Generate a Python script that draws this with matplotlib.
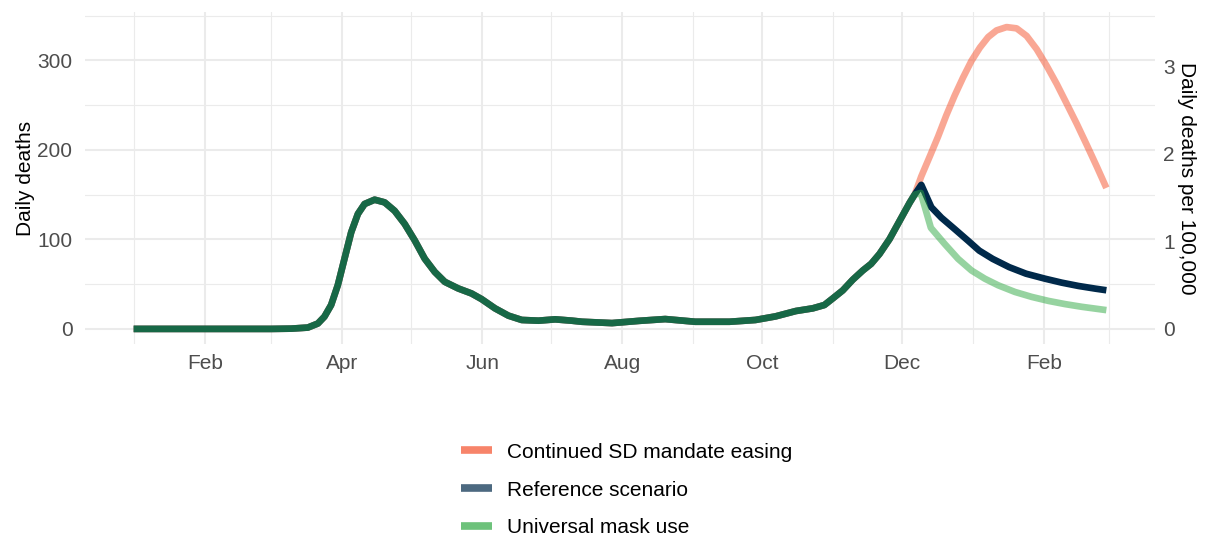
import matplotlib
matplotlib.use("Agg")
import matplotlib.pyplot as plt
import matplotlib.dates as mdates
from matplotlib.lines import Line2D
import pandas as pd

plt.rcParams["font.family"] = ["Liberation Sans", "DejaVu Sans"]

# observed daily deaths (shared by all scenarios)
hist_dates = ["2020-01-01", "2020-02-01", "2020-03-01", "2020-03-09 14:00",
              "2020-03-16 22:00", "2020-03-21 07:00", "2020-03-24 04:00", "2020-03-27 02:00",
              "2020-03-30 00:00", "2020-04-01 22:00", "2020-04-04 20:00", "2020-04-07 18:00",
              "2020-04-10 16:00", "2020-04-15 01:00", "2020-04-19 10:00", "2020-04-23 18:00",
              "2020-04-28 03:00", "2020-05-02 12:00", "2020-05-06 21:00", "2020-05-11 06:00",
              "2020-05-15 15:00", "2020-05-21 12:00", "2020-05-27 07:00", "2020-05-31 16:00",
              "2020-06-06 12:00", "2020-06-12 09:00", "2020-06-18 04:00", "2020-06-25 11:00",
              "2020-07-02 18:00", "2020-07-10 00:00", "2020-07-14 10:00", "2020-07-27 12:00",
              "2020-08-08 07:00", "2020-08-19 17:00", "2020-09-01 19:00", "2020-09-16 17:00",
              "2020-09-28 01:00", "2020-10-06 19:00", "2020-10-15 16:00", "2020-10-23 01:00",
              "2020-10-28 02:00", "2020-10-31 17:00", "2020-11-05 02:00", "2020-11-09 11:00",
              "2020-11-13 20:00", "2020-11-17 11:00", "2020-11-21 03:00", "2020-11-25 12:00",
              "2020-11-29 21:00", "2020-12-04 06:00", "2020-12-06 10:00"]
hist_deaths = [0, 0, 0, 0.3,
               1.5, 6, 13.7, 26.7,
               48.9, 78.5, 108, 128.5,
               139.6, 144.4, 141.4, 132,
               117.4, 99, 78.5, 63.7,
               52.6, 45.2, 39.6, 33.3,
               23, 14.8, 10, 9.2,
               10.7, 9.2, 8, 6.5,
               9, 11, 8, 8,
               10, 14, 20, 23,
               26.7, 34, 43, 55,
               65.3, 72.7, 83.8, 100.4,
               120.7, 141, 150]

# projections
easing_dates = ["2020-12-09 08:00", "2020-12-13 00:00", "2020-12-16 15:00", "2020-12-20 06:00",
                "2020-12-23 22:00", "2020-12-27 13:00", "2020-12-31 05:00", "2021-01-03 21:00",
                "2021-01-07 12:00", "2021-01-11 03:00", "2021-01-15 12:00", "2021-01-19 21:00",
                "2021-01-24 06:00", "2021-01-28 15:00", "2021-02-02 00:00", "2021-02-06 09:00",
                "2021-02-10 18:00", "2021-02-15 02:00", "2021-02-19 12:00", "2021-02-23 20:00",
                "2021-02-28 00:00"]
easing_deaths = [170.5, 192.6, 214.8, 238.8,
                 261, 281, 299.6, 314.4,
                 326.2, 333.6, 337.3, 335.9,
                 327.4, 312.6, 294, 273.7,
                 251.5, 229.3, 205.4, 181.4,
                 157.6]

ref_dates = ["2020-12-09 08:00", "2020-12-13 17:00", "2020-12-18 02:00", "2020-12-23 22:00",
             "2020-12-29 18:00", "2021-01-03 14:00", "2021-01-09 10:00", "2021-01-16 16:00",
             "2021-01-24 00:00", "2021-02-01 07:00", "2021-02-08 13:00", "2021-02-15 20:00",
             "2021-02-23 04:00", "2021-02-28 00:00"]
ref_deaths = [161, 136, 124.3, 111.5,
              98.5, 87.5, 78.3, 69,
              61.7, 56.1, 51.7, 48,
              45, 43.2]

mask_dates = ["2020-12-09 02:00", "2020-12-13 12:00", "2020-12-19 13:00", "2020-12-25 09:00",
              "2020-12-31 05:00", "2021-01-06 01:00", "2021-01-11 21:00", "2021-01-19 04:00",
              "2021-01-26 10:00", "2021-02-02 18:00", "2021-02-10 01:00", "2021-02-17 07:00",
              "2021-02-28 00:00"]
mask_deaths = [152, 113, 94.9, 78.3,
               65.3, 56.1, 48.7, 41.3,
               35.8, 31.3, 27.7, 24.7,
               21]

labels = ["Continued SD mandate easing", "Reference scenario", "Universal mask use"]
colors = ["#F5502B", "#00294A", "#2FA843"]
line_alpha = [0.5, 1.0, 0.5]

deaths_per_rate = 97.8  # daily deaths equal to 1 per 100,000

series = [(easing_dates, easing_deaths), (ref_dates, ref_deaths), (mask_dates, mask_deaths)]

fig = plt.figure(figsize=(12.05, 5.35), dpi=100)
ax = fig.add_axes([85 / 1205, 1 - 344 / 535, 1070 / 1205, 332 / 535])

all_y = list(hist_deaths)
for (d, v), c, a in zip(series, colors, line_alpha):
    x = pd.to_datetime(hist_dates + d, format="mixed")
    y = hist_deaths + v
    all_y += v
    ax.plot(x, y, color=c, alpha=a, lw=4.8, solid_capstyle="butt", solid_joinstyle="round")

x0 = pd.Timestamp(hist_dates[0])
x1 = pd.Timestamp(easing_dates[-1])
span = x1 - x0
ax.set_xlim(x0 - span * 0.05, x1 + span * 0.05)
ymax = max(all_y)
ax.set_ylim(-0.05 * ymax, 1.05 * ymax)

ax.xaxis.set_major_locator(mdates.MonthLocator(bymonth=[2, 4, 6, 8, 10, 12]))
ax.xaxis.set_minor_locator(mdates.MonthLocator(bymonth=[1, 3, 5, 7, 9, 11]))
ax.xaxis.set_major_formatter(mdates.DateFormatter("%b"))
ax.set_yticks([0, 100, 200, 300])
ax.set_yticks([50, 150, 250, 350], minor=True)

ax.grid(which="major", color="#EBEBEB", lw=1.5)
ax.grid(which="minor", color="#EBEBEB", lw=0.8)
ax.set_axisbelow(True)
for s in ax.spines.values():
    s.set_visible(False)
ax.tick_params(which="both", length=0)
ax.tick_params(axis="x", pad=7, labelsize=15, labelcolor="#4D4D4D")
ax.tick_params(axis="y", pad=9, labelsize=15, labelcolor="#4D4D4D")
ax.set_ylabel("Daily deaths", fontsize=15, labelpad=2)

ax2 = ax.twinx()
lo, hi = ax.get_ylim()
ax2.set_ylim(lo / deaths_per_rate, hi / deaths_per_rate)
ax2.set_yticks([0, 1, 2, 3])
for s in ax2.spines.values():
    s.set_visible(False)
ax2.tick_params(length=0, pad=6, labelsize=15, labelcolor="#4D4D4D")
ax2.set_ylabel("Daily deaths per 100,000", fontsize=15, rotation=-90,
               va="bottom", labelpad=1.5)

handles = [Line2D([], [], color=c, alpha=0.7, lw=5.5, solid_capstyle="butt") for c in colors]
fig.legend(handles, labels, loc="center", bbox_to_anchor=(627 / 1205, 1 - 490 / 535),
           frameon=False, fontsize=15, handlelength=1.45, handletextpad=0.75,
           labelspacing=0.9, borderpad=0)

fig.savefig("out.png", dpi=100)
